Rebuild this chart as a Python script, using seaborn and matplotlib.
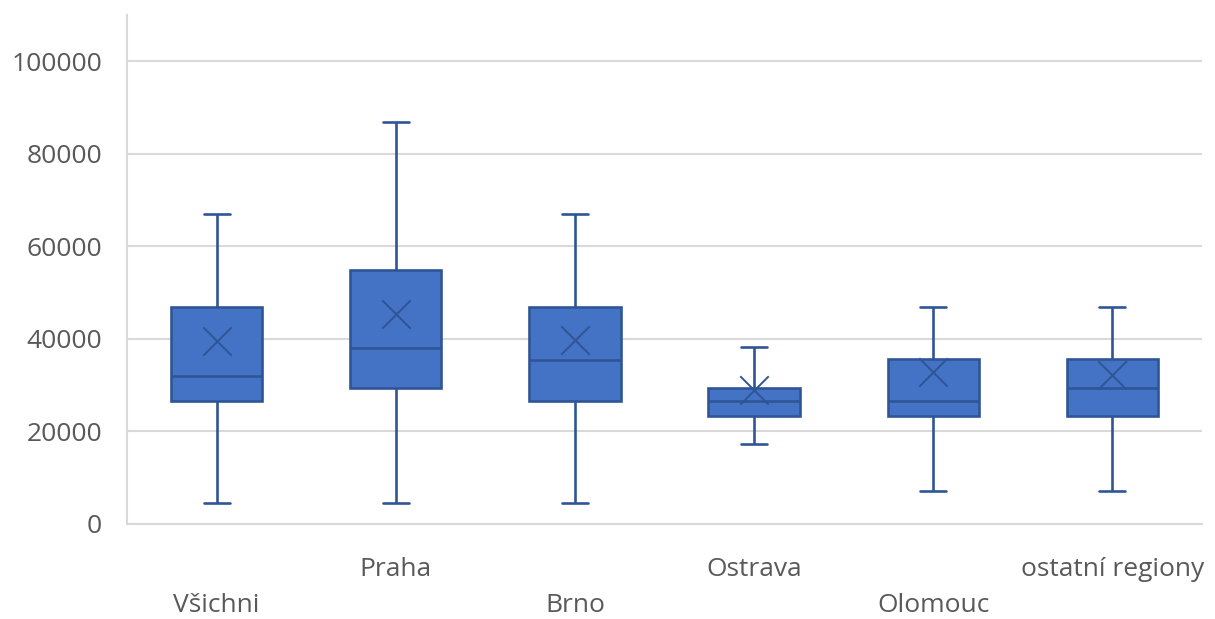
import numpy as np
import pandas as pd
import matplotlib
matplotlib.use("Agg")
import matplotlib.pyplot as plt
import seaborn as sns

# Salary distribution by region: five-number summary and mean per group
categories = ["Všichni", "Praha", "Brno", "Ostrava", "Olomouc", "ostatní regiony"]
minimum = [4500, 4500, 4500, 17300, 7100, 7100]
q1 = [26500, 29500, 26500, 23300, 23300, 23300]
median = [32000, 38000, 35500, 26500, 26500, 29400]
q3 = [47000, 55000, 47000, 29400, 35600, 35600]
maximum = [67000, 87000, 67000, 38200, 47000, 47000]
means = [39500, 45500, 39700, 28900, 32800, 32200]
y_ticks = [0, 20000, 40000, 60000, 80000, 100000]

rows = []
for i, cat in enumerate(categories):
    for v in (minimum[i], q1[i], median[i], q3[i], maximum[i]):
        rows.append({"region": cat, "value": v})
df = pd.DataFrame(rows)
df_mean = pd.DataFrame({"region": categories, "mean": means})

sns.set_theme(style="white")
plt.rcParams["font.family"] = ["Open Sans", "DejaVu Sans"]

fill = "#4472C4"
edge = "#2F5597"
grid = "#D9D9D9"
text = "#595959"

fig = plt.figure(figsize=(12.15, 6.19), dpi=100)
ax = fig.add_axes([0.1045, 0.1535, 0.8848, 0.822])

sns.boxplot(data=df, x="region", y="value", order=categories, whis=(0, 100),
            width=0.51, color=fill, linecolor=edge, linewidth=1.9,
            saturation=1, showfliers=False, ax=ax, zorder=3,
            capwidths=0.145,
            boxprops=dict(facecolor=fill, edgecolor=edge))
sns.scatterplot(data=df_mean, x="region", y="mean", marker="x", s=420,
                color=edge, linewidth=1.4, ax=ax, zorder=5, legend=False)

ax.set_xlim(-0.5, len(categories) - 0.5)
ax.set_ylim(0, 110000)
ax.set_yticks(y_ticks)
ax.set_yticklabels([str(t) for t in y_ticks])
ax.yaxis.grid(True, color=grid, linewidth=1.5, zorder=0)
ax.set_axisbelow(True)
ax.set_xlabel("")
ax.set_ylabel("")

for side in ("top", "right"):
    ax.spines[side].set_visible(False)
ax.spines["left"].set_color(grid)
ax.spines["left"].set_linewidth(1.5)
ax.spines["bottom"].set_color(grid)
ax.spines["bottom"].set_linewidth(1.5)

ax.tick_params(axis="both", length=0, labelsize=19, labelcolor=text)
ax.tick_params(axis="y", pad=18)
for i, tick in enumerate(ax.xaxis.get_major_ticks()):
    tick.set_pad(50 if i % 2 == 0 else 24)

fig.savefig("out.png", dpi=100)
